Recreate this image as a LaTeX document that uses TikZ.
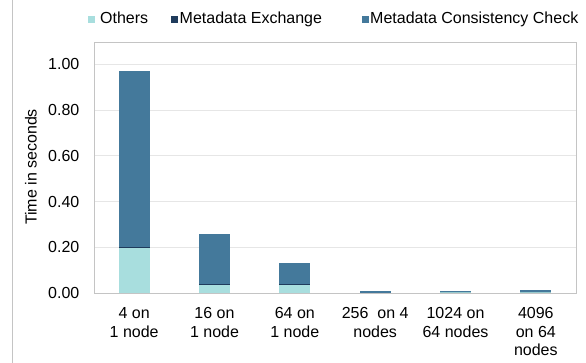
\documentclass[tikz,border=0pt]{standalone}
\usepackage{fontspec}
\setmainfont{Liberation Sans}
\definecolor{others}{HTML}{A8DEDE}
\definecolor{exchange}{HTML}{1F3B5C}
\definecolor{consist}{HTML}{44799B}
\definecolor{framegray}{HTML}{C4C4C4}
\definecolor{gridgray}{HTML}{E6E6E6}

\begin{document}
\begin{tikzpicture}[x=1pt,y=1pt]
\tikzstyle{every node}=[font=\fontsize{16}{18.5}\selectfont,inner sep=0pt];
\tikzstyle{swatch}=[minimum size=7pt,inner sep=0pt];
\tikzstyle{catlabel}=[align=center,anchor=north];
\useasboundingbox (0,0) rectangle (586,363);
% outer chart border
\draw[framegray,line width=0.6pt] (12.3,0) -- (12.3,363);
% grid and ticks
\foreach \v/\t in {0/0.00,0.2/0.20,0.4/0.40,0.6/0.60,0.8/0.80,1/1.00}{
	\draw[gridgray,line width=0.9pt] (94,70+228.7*\v) -- (576,70+228.7*\v);
	\node[anchor=east] (tick\t) at (79.5,70+228.7*\v) {\t};
}
% bars: index/others/exchange/consistency
\foreach \i/\o/\e/\m in {1/0.195/0.007/0.769,2/0.039/0.001/0.218,3/0.039/0.001/0.090,
	4/0.001/0/0.009,5/0.004/0/0.004,6/0.006/0/0.005}{
	\pgfmathsetmacro{\xc}{94+80.33*(\i-0.5)}
	\pgfmathsetmacro{\ya}{70+228.7*\o}
	\pgfmathsetmacro{\yb}{\ya+228.7*\e}
	\pgfmathsetmacro{\yc}{\yb+228.7*\m}
	\fill[others] (\xc-15.5,70) rectangle (\xc+15.5,\ya);
	\fill[exchange] (\xc-15.5,\ya) rectangle (\xc+15.5,\yb);
	\fill[consist] (\xc-15.5,\yb) rectangle (\xc+15.5,\yc);
}
\draw[framegray,line width=0.8pt] (94,70) rectangle (576,321);
% category labels
\node[catlabel] (cat1) at (134.2,55.7) {4 on\\1 node};
\node[catlabel] (cat2) at (214.5,55.7) {16 on\\1 node};
\node[catlabel] (cat3) at (294.8,55.7) {64 on\\1 node};
\node[catlabel] (cat4) at (375.2,55.7) {256~ on 4\\nodes};
\node[catlabel] (cat5) at (455.5,55.7) {1024 on\\64 nodes};
\node[catlabel] (cat6) at (535.8,55.7) {4096\\on 64\\nodes};
% axis title
\node[rotate=90] (ytitle) at (31,196) {Time in seconds};
% legend
\node[swatch,fill=others] (swo) at (91.5,343) {};
\node[anchor=base west] (lego) at (100,339.7) {Others};
\node[swatch,fill=exchange] (swe) at (174,343) {};
\node[anchor=base west] (lege) at (179.5,339.7) {Metadata Exchange};
\node[swatch,fill=consist] (swm) at (365,343) {};
\node[anchor=base west] (legm) at (370,339.7) {Metadata Consistency Check};
\end{tikzpicture}
\end{document}
